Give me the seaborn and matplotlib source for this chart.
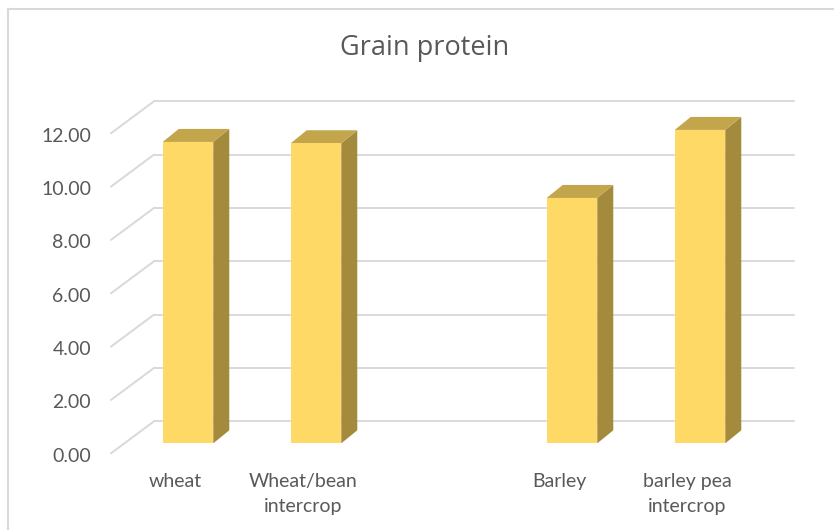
import numpy as np
import pandas as pd
import matplotlib
matplotlib.use("Agg")
import matplotlib.pyplot as plt
import seaborn as sns
from matplotlib.patches import Polygon
from matplotlib.lines import Line2D
from matplotlib.transforms import IdentityTransform

# ---- data ----
categories = ["wheat", "Wheat/bean\nintercrop", "Barley", "barley pea\nintercrop"]
protein = [11.3, 11.25, 9.2, 11.75]
order = ["wheat", "Wheat/bean\nintercrop", "", "Barley", "barley pea\nintercrop"]
yticks = [0, 2, 4, 6, 8, 10, 12]
ytick_labels = ["0.00", "2.00", "4.00", "6.00", "8.00", "10.00", "12.00"]
title = "Grain protein"

# ---- style ----
FRONT = "#FFD966"
SIDE = "#A38A3C"
TOP = "#C3A64C"
GRID = "#D9D9D9"
TEXT = "#595959"

sns.set_theme(style="white")
plt.rcParams["font.family"] = ["Lato", "DejaVu Sans"]

W, H, DPI = 834, 530, 100
fig = plt.figure(figsize=(W / DPI, H / DPI), dpi=DPI)
fig.patch.set_facecolor("white")

# axes = plane through the bars' front faces
x0, x1 = 124, 764
y0px, scale = 443.3, 26.67
ax = fig.add_axes([x0 / W, (H - y0px) / H, (x1 - x0) / W, 12 * scale / H])
ax.set_facecolor("none")

df = pd.DataFrame({"crop": categories, "protein": protein})
sns.barplot(data=df, x="crop", y="protein", order=order, color=FRONT,
            saturation=1, width=0.395, ax=ax, zorder=3, linewidth=0)
ax.set_xlim(-0.5, len(order) - 0.5)
ax.set_ylim(0, 12)
ax.set_xticks([])
ax.set_yticks([])
ax.set_xlabel("")
ax.set_ylabel("")
for s in ax.spines.values():
    s.set_visible(False)

# depth offsets (pixels) relative to the bar plane
FRONT_OFF = (-13, -10)   # front plane (display coords, y up)
BACK_OFF = (30, 22)      # back wall
BAR_D = (16, 13)         # bar depth

td = ax.transData
def disp(x, y, off=(0, 0)):
    px, py = td.transform((x, y))
    return px + off[0], py + off[1]

xl, xr = ax.get_xlim()
# back wall gridlines and left wall diagonals
for v, lab in zip(yticks, ytick_labels):
    a = disp(xl, v, BACK_OFF)
    b = disp(xr, v, BACK_OFF)
    fig.add_artist(Line2D([a[0], b[0]], [a[1], b[1]], transform=IdentityTransform(),
                          color=GRID, lw=1.4, zorder=1))
    f = disp(xl, v, FRONT_OFF)
    fig.add_artist(Line2D([f[0], a[0]], [f[1], a[1]], transform=IdentityTransform(),
                          color=GRID, lw=1.4, zorder=1))
    fig.text(f[0] - 20, f[1] - 3, lab, transform=IdentityTransform(),
             ha="right", va="center", fontsize=14, color=TEXT)

# 3D faces for bars
for p in ax.patches:
    bx, by, bw, bh = p.get_x(), p.get_y(), p.get_width(), p.get_height()
    if not np.isfinite(bh) or bh == 0:
        continue
    lb = disp(bx, by); rb = disp(bx + bw, by)
    lt = disp(bx, by + bh); rt = disp(bx + bw, by + bh)
    dx, dy = BAR_D
    side = [rb, (rb[0] + dx, rb[1] + dy), (rt[0] + dx, rt[1] + dy), rt]
    top = [lt, rt, (rt[0] + dx, rt[1] + dy), (lt[0] + dx, lt[1] + dy)]
    fig.add_artist(Polygon(side, closed=True, transform=IdentityTransform(),
                           facecolor=SIDE, edgecolor="none", zorder=4))
    fig.add_artist(Polygon(top, closed=True, transform=IdentityTransform(),
                           facecolor=TOP, edgecolor="none", zorder=4))
    fig.add_artist(Polygon([lb, rb, rt, lt], closed=True, transform=IdentityTransform(),
                           facecolor=FRONT, edgecolor="none", zorder=5))

# category labels on the front plane
for i, lab in enumerate(order):
    if not lab:
        continue
    px, py = disp(i, 0, FRONT_OFF)
    fig.text(px, py - 20, lab, transform=IdentityTransform(), ha="center", va="top",
             fontsize=14, color=TEXT, linespacing=1.55)

fig.text(425 / W, 1 - 48 / H, title, ha="center", va="center",
         fontsize=19.5, color=TEXT, family=["Open Sans", "DejaVu Sans"])

# chart border (left and top visible)
fig.add_artist(Line2D([8 / W, 8 / W], [0, 1 - 9 / H], transform=fig.transFigure,
                      color=GRID, lw=1.5))
fig.add_artist(Line2D([8 / W, 1], [1 - 9 / H, 1 - 9 / H], transform=fig.transFigure,
                      color=GRID, lw=1.5))

fig.savefig("out.png", dpi=DPI)
